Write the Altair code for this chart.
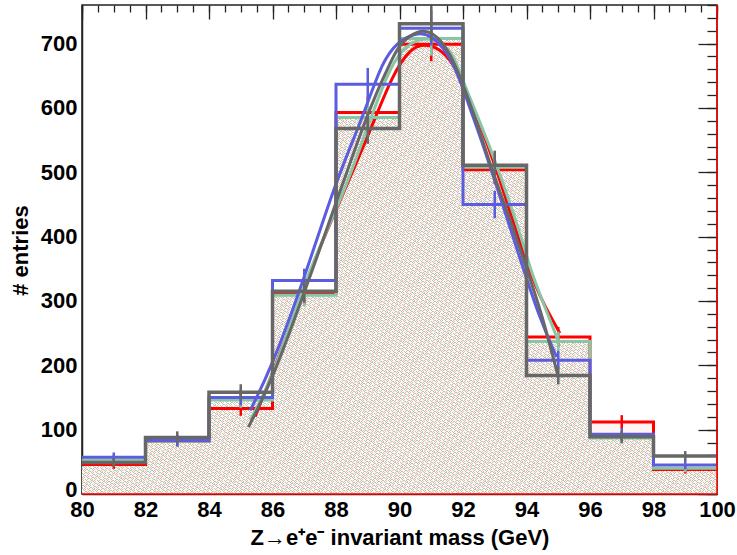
import altair as alt
import pandas as pd

# ---------------- data ----------------
bin_edges = [80, 82, 84, 86, 88, 90, 92, 94, 96, 98]
bin_width = 2
hist_red = [46, 82, 133, 312, 593, 699, 504, 244, 112, 38]
hist_green = [53, 82, 146, 309, 585, 708, 508, 237, 87, 40]
hist_blue = [57, 83, 150, 332, 637, 724, 450, 208, 93, 45]
hist_gray = [49, 88, 158, 315, 568, 731, 511, 184, 89, 59]

fit_red_x = [85.45, 86.1, 87.2, 87.5, 88.25, 89.0, 89.8, 90.35, 90.75, 91.3, 91.7, 92.0, 92.95, 94.1, 94.6, 95.05]
fit_red_y = [120, 200, 345, 385, 470, 555, 655, 692, 700, 692, 668, 640, 525, 340, 290, 250]
fit_green_x = [85.3, 86.03, 87.08, 88.24, 88.76, 89.49, 89.91, 90.54, 91.17, 91.69, 92.0, 92.95, 93.9, 94.1, 94.5, 95.0]
fit_green_y = [115, 182, 342, 467, 539, 637, 682, 709, 707, 687, 640, 530, 390, 352, 300, 238]
fit_blue_x = [85.3, 86.0, 87.0, 87.9, 88.5, 89.0, 89.45, 89.9, 90.55, 91.0, 91.5, 91.9, 92.25, 92.65, 93.25, 93.8, 94.45, 94.95]
fit_blue_y = [130, 200, 335, 472, 545, 608, 670, 702, 718, 713, 688, 645, 595, 540, 450, 365, 268, 213]
fit_gray_x = [85.24, 86.0, 87.1, 87.4, 88.1, 88.65, 89.25, 89.75, 90.0, 90.6, 91.05, 91.5, 91.95, 92.45, 92.95, 93.5, 94.0, 94.45, 95.0]
fit_gray_y = [104, 177, 327, 368, 467, 544, 622, 674, 700, 722, 718, 694, 645, 575, 498, 425, 350, 286, 182]

x_tick_labels = [80, 82, 84, 86, 88, 90, 92, 94, 96, 98, 100]
x_minor_ticks = [80 + 0.5 * i for i in range(41)]
y_tick_labels = [0, 100, 200, 300, 400, 500, 600, 700]
y_minor_ticks = [20 * i for i in range(39)]

x_title = "Z\u2192e\u207ae\u207b invariant mass (GeV)"
y_title = "# entries"

# ---------------- styles ----------------
FONT = "Liberation Sans"
COL = {"red": "#ff0000", "green": "#88c6a6", "blue": "#5c5ce0", "gray": "#676767"}
W, H = 635, 489
XS = alt.Scale(domain=[80, 100], nice=False, zero=False)
YS = alt.Scale(domain=[0, 760], nice=False, zero=False)


def hist_df(vals, name):
    xs = bin_edges + [bin_edges[-1] + bin_width]
    ys = vals + [vals[-1]]
    return pd.DataFrame({"x": xs, "y": ys, "s": name})


def err_df(vals, name):
    return pd.DataFrame({"c": [e + bin_width / 2 for e in bin_edges], "v": vals, "s": name})


hists = {"red": hist_red, "green": hist_green, "blue": hist_blue, "gray": hist_gray}
fits = {
    "red": (fit_red_x, fit_red_y),
    "green": (fit_green_x, fit_green_y),
    "blue": (fit_blue_x, fit_blue_y),
    "gray": (fit_gray_x, fit_gray_y),
}

# axes --------------------------------------------------------
ax_x_lab = alt.Axis(values=x_tick_labels, format="d", labelFont=FONT, labelFontSize=22,
                    labelFontWeight="bold", labelColor="black", labelFlush=False,
                    labelPadding=5, ticks=False, domain=True, domainColor="#222",
                    domainWidth=1.5, grid=False, title=x_title, titleFont=FONT,
                    titleFontSize=22, titleFontWeight="bold", titleColor="black",
                    titleX=W / 2, titleY=50, titleAlign="center", titleAnchor="middle",
                    titleBaseline="alphabetic", labelOverlap=False)
ax_y_lab = alt.Axis(values=y_tick_labels, format="d", labelFont=FONT, labelFontSize=22,
                    labelFontWeight="bold", labelColor="black", labelFlush=False,
                    labelPadding=5, ticks=False, domain=True, domainColor="#222",
                    domainWidth=1.5, grid=False, title=y_title, titleFont=FONT,
                    titleFontSize=22, titleFontWeight="bold", titleColor="black",
                    titleX=-62, titleY=245, titleAngle=270, titleAlign="center",
                    titleBaseline="middle", labelOverlap=False,
                    labelOffset=alt.ExprRef("datum.value == 0 ? -5 : 0"))


def tick_axis(values, size):
    return alt.Axis(values=values, labels=False, domain=False, ticks=True, tickSize=size,
                    tickColor="#222", tickWidth=1.3, offset=-size, grid=False, title=None)


ax_x_major = tick_axis(x_tick_labels, 14)
ax_x_minor = tick_axis(x_minor_ticks, 7)
ax_y_major = tick_axis(y_tick_labels, 19)
ax_y_minor = tick_axis(y_minor_ticks, 10)

# hatch gradient for the fill: mint hatch lines with rows of pink dots between them
N = 240
MINT = "#a3d8bd"
PINK = "#ffb4b4"
stops = []
for k in range(N):
    o = k / N
    seq = [(0.0, "#ffffff"), (0.30, "#ffffff"), (0.30, MINT), (0.55, MINT), (0.55, "#ffffff"),
           (0.80, "#ffffff"), (0.80, PINK), (0.93, PINK), (0.93, "#ffffff"), (0.999, "#ffffff")]
    for f, c in seq:
        stops.append(alt.GradientStop(color=c, offset=o + f / N))
hatch = alt.LinearGradient(gradient="linear", stops=stops, x1=0, y1=1, x2=1, y2=0)

layers = []
# fills
layers.append(
    alt.Chart(hist_df(hist_green, "green")).mark_area(interpolate="step-after", color=hatch)
    .encode(x=alt.X("x:Q", scale=XS, axis=ax_x_lab), y=alt.Y("y:Q", scale=YS, axis=ax_y_lab))
)
layers.append(
    alt.Chart(hist_df(hist_red, "red")).mark_area(interpolate="step-after", color="#ff3030", opacity=0.05)
    .encode(x=alt.X("x:Q", scale=XS, axis=ax_x_major), y=alt.Y("y:Q", scale=YS, axis=ax_y_major))
)

first = True
for name in ["red", "green", "blue", "gray"]:
    sw = 3.5 if name == "gray" else 3
    xa = ax_x_minor if first else None
    ya = ax_y_minor if first else None
    first = False
    layers.append(
        alt.Chart(hist_df(hists[name], name)).mark_line(interpolate="step-after", color=COL[name], strokeWidth=sw)
        .encode(x=alt.X("x:Q", scale=XS, axis=xa), y=alt.Y("y:Q", scale=YS, axis=ya))
    )
    layers.append(
        alt.Chart(err_df(hists[name], name))
        .transform_calculate(lo="datum.v - sqrt(datum.v)", hi="datum.v + sqrt(datum.v)")
        .mark_rule(color=COL[name], strokeWidth=2.5)
        .encode(x=alt.X("c:Q", scale=XS, axis=None), y=alt.Y("lo:Q", scale=YS, axis=None), y2="hi:Q")
    )
    fx, fy = fits[name]
    layers.append(
        alt.Chart(pd.DataFrame({"x": fx, "y": fy})).mark_line(interpolate="basis", color=COL[name], strokeWidth=3)
        .encode(x=alt.X("x:Q", scale=XS, axis=None), y=alt.Y("y:Q", scale=YS, axis=None))
    )

# red frame edges (right and bottom)
layers.append(alt.Chart(pd.DataFrame({"x": [100]})).mark_rule(color="#ff0000", strokeWidth=1.5)
              .encode(x=alt.X("x:Q", scale=XS, axis=None)))
layers.append(alt.Chart(pd.DataFrame({"y": [0]})).mark_rule(color="#ff0000", strokeWidth=1.5)
              .encode(y=alt.Y("y:Q", scale=YS, axis=None)))

chart = (
    alt.layer(*layers)
    .resolve_axis(x="independent", y="independent")
    .properties(width=W, height=H, autosize=alt.AutoSizeParams(type="none"),
                padding={"left": 82, "top": 5, "right": 20, "bottom": 61}, background="white")
    .configure_view(stroke="#222", strokeWidth=1.5)
)

chart.save("out.html", embed_options={"renderer": "svg", "actions": False})
